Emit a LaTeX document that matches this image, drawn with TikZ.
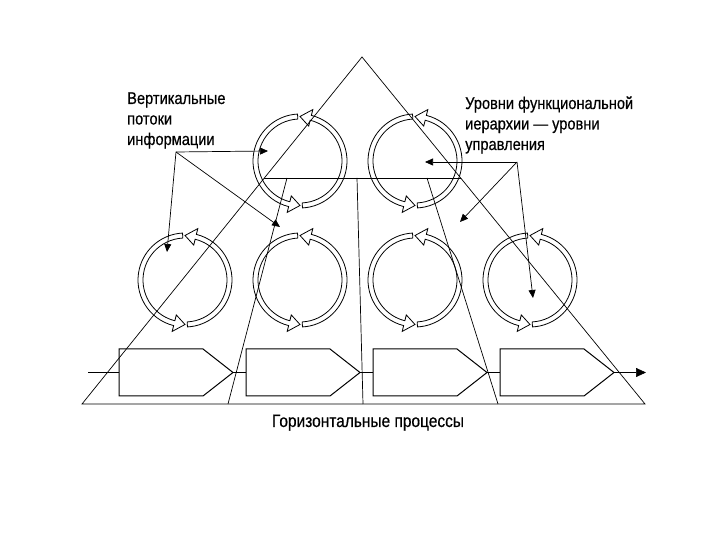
\documentclass[tikz,border=0pt]{standalone}
\usepackage{fontspec}
\setmainfont{Liberation Sans}[FakeStretch=0.86,FakeBold=0.5]
\usetikzlibrary{arrows.meta,calc}

\tikzset{
  ln/.style={line width=0.7pt},
  ring/.style={line width=0.8pt},
  procbox/.style={line width=1pt},
  ptr/.style={line width=0.7pt,-{Triangle[length=8pt,width=7pt]}},
  lbl/.style={inner sep=0pt,align=left,font=\fontsize{17}{20.5}\selectfont}
}
% one hollow curved arrow of a cycle: start angle, end angle, tip angle
\newcommand{\cyclearrow}[3]{(#1:42) arc[start angle=#1,end angle=#2,radius=42]
  -- (#2:36) -- (#3:44.5) -- (#2:53) -- (#2:47)
  arc[start angle=#2,end angle=#1,radius=47] -- cycle}

\begin{document}
\begin{tikzpicture}[x=1pt,y=1pt]
  \useasboundingbox (0,0) rectangle (720,540);

  % pyramid and levels
  \coordinate (top) at (362,483);
  \coordinate (bl) at (82,136);
  \coordinate (br) at (645,136);
  \draw[ln] (top) -- (bl) -- (br) -- cycle;
  \coordinate (ml) at ($(top)!0.349!(bl)$);
  \coordinate (mr) at ($(top)!0.349!(br)$);
  \draw[ln] (ml) -- (mr);
  \coordinate (d1) at (287,362);
  \coordinate (d2) at (357,362);
  \coordinate (d3) at (427,362);
  \draw[ln] (d1) -- (228,136);
  \draw[ln] (d2) -- (363,136);
  \draw[ln] (d3) -- (498,136);

  % cycles
  \foreach \name/\x/\y in {c1/300/379,c2/415/379,c3/185/260,c4/300/260,c5/415/260,c6/530/260}{
    \coordinate (\name) at (\x,\y);
    \begin{scope}[shift={(\name)}]
      \draw[ring] \cyclearrow{-87}{76}{90};
      \draw[ring] \cyclearrow{93}{256}{270};
    \end{scope}
  }

  % horizontal processes
  \foreach \i/\x in {1/119,2/246,3/373,4/500}{
    \draw[procbox] (\x,191) -- ++(84,0) -- ++(30,-23.5) -- ++(-30,-23.5) -- ++(-84,0) -- cycle;
    \coordinate (in\i) at (\x,167.5);
    \coordinate (out\i) at (\x+114,167.5);
  }
  \coordinate (pstart) at (88,167.5);
  \coordinate (pend) at (646,167.5);
  \draw[ln] (pstart) -- (in1);
  \draw[ln] (out1) -- (in2);
  \draw[ln] (out2) -- (in3);
  \draw[ln] (out3) -- (in4);
  \draw[ln,-{Triangle[length=10pt,width=9pt]}] (out4) -- (pend);

  % labels
  \node[lbl,anchor=base west] (vert) at (127,395) {Вертикальные\\потоки\\информации};
  \node[lbl,anchor=base west] (levels) at (465,390) {Уровни функциональной\\иерархии — уровни\\управления};
  \node[lbl,anchor=base,font=\fontsize{18}{22}\selectfont] (horiz) at (368,113) {Горизонтальные процессы};

  % pointers
  \coordinate (vp) at (176,388);
  \coordinate (lp) at (517,378);
  \draw[ptr] (vp) -- (268,389);
  \draw[ptr] (vp) -- (167,288);
  \draw[ptr] (vp) -- (280,313);
  \draw[ptr] (lp) -- (425,378);
  \draw[ptr] (lp) -- (460,318);
  \draw[ptr] (lp) -- (533,242);
\end{tikzpicture}
\end{document}
